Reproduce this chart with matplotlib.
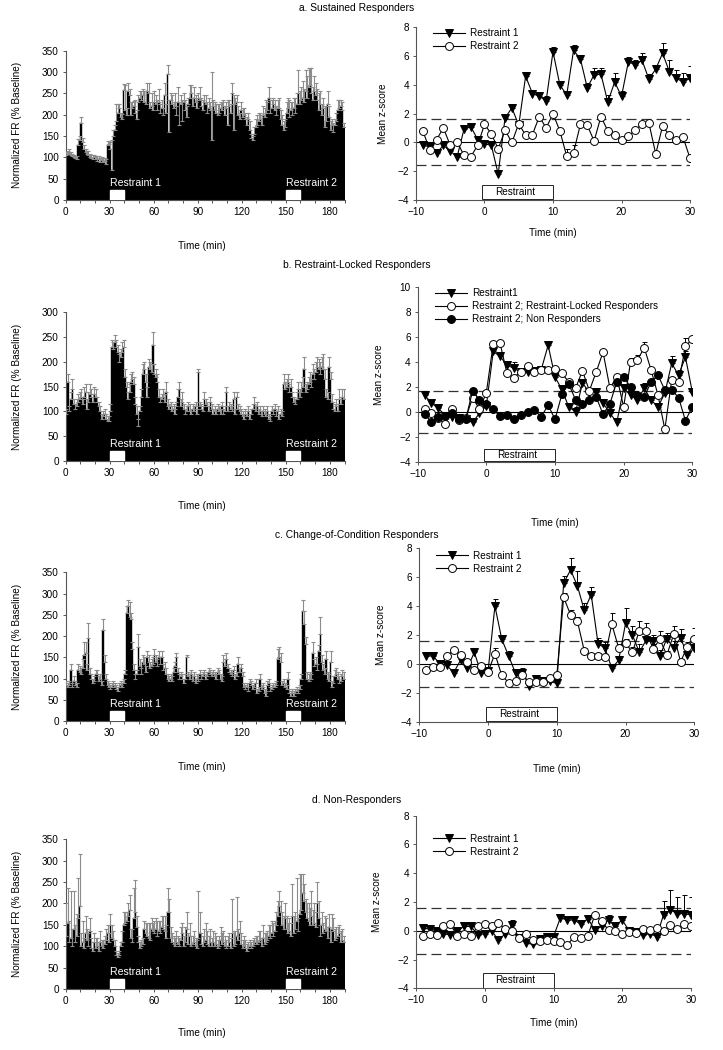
import numpy as np
import matplotlib
matplotlib.use("Agg")
import matplotlib.pyplot as plt
from matplotlib.patches import Rectangle

plt.rcParams['font.family'] = ['Liberation Sans', 'DejaVu Sans']

# ---------------- data: normalized firing rate, 1-min bins (0-189 min) ----------------
fr_minutes = list(range(190))

fr_a = [105, 108, 110, 106, 104, 100, 98, 97, 130, 140,
        180, 135, 120, 112, 108, 105, 100, 98, 96, 100,
        95, 92, 96, 90, 94, 88, 92, 85, 130, 132,
        120, 70, 150, 165, 185, 205, 215, 195, 190, 258,
        210, 200, 255, 245, 200, 215, 220, 205, 190, 230,
        240, 235, 245, 230, 225, 255, 250, 215, 220, 210,
        230, 225, 210, 230, 205, 215, 200, 245, 205, 295,
        160, 235, 225, 215, 220, 200, 230, 175, 225, 185,
        230, 210, 195, 225, 240, 250, 220, 240, 230, 215,
        240, 235, 220, 210, 230, 225, 205, 215, 210, 140,
        220, 210, 205, 200, 205, 215, 210, 220, 200, 215,
        175, 220, 205, 250, 165, 225, 230, 200, 190, 210,
        195, 200, 190, 175, 190, 165, 145, 140, 155, 170,
        175, 185, 190, 175, 200, 195, 205, 210, 240, 205,
        215, 225, 210, 200, 215, 215, 190, 175, 165, 170,
        205, 215, 195, 210, 200, 215, 205, 225, 250, 225,
        235, 240, 230, 255, 240, 265, 270, 250, 235, 255,
        245, 235, 210, 225, 200, 215, 170, 185, 225, 195,
        165, 175, 160, 175, 185, 210, 215, 220, 210, 170]
fr_a_err = [8, 8, 10, 6, 5, 5, 6, 5, 12, 10,
            15, 10, 8, 8, 6, 10, 8, 8, 10, 6,
            8, 10, 6, 8, 6, 10, 6, 10, 8, 6,
            15, 70, 15, 10, 40, 20, 10, 10, 12, 15,
            60, 15, 20, 15, 30, 15, 12, 30, 20, 15,
            15, 20, 15, 25, 30, 20, 25, 15, 30, 20,
            25, 20, 25, 30, 20, 20, 15, 30, 20, 22,
            75, 15, 20, 15, 30, 20, 35, 55, 20, 50,
            20, 25, 25, 15, 30, 20, 20, 25, 15, 20,
            10, 30, 20, 25, 15, 20, 25, 25, 20, 160,
            15, 20, 20, 25, 20, 15, 20, 15, 20, 15,
            60, 15, 20, 25, 80, 15, 15, 20, 15, 20,
            20, 15, 15, 20, 15, 20, 10, 10, 15, 20,
            25, 20, 15, 25, 20, 20, 30, 20, 25, 30,
            20, 15, 25, 20, 20, 25, 20, 25, 20, 20,
            25, 25, 40, 20, 30, 25, 35, 25, 55, 30,
            30, 40, 30, 50, 50, 45, 40, 60, 30, 35,
            30, 25, 40, 30, 25, 25, 50, 35, 30, 25,
            20, 15, 20, 15, 20, 25, 20, 15, 20, 10]

fr_b = [95, 160, 100, 125, 145, 115, 105, 110, 120, 125,
        130, 115, 130, 140, 105, 120, 135, 130, 120, 135,
        130, 120, 110, 100, 85, 90, 95, 85, 80, 80,
        100, 230, 225, 240, 230, 220, 200, 210, 220, 230,
        170, 150, 125, 140, 160, 165, 155, 115, 95, 70,
        100, 130, 175, 185, 160, 130, 190, 185, 180, 235,
        175, 170, 160, 130, 120, 125, 130, 120, 140, 110,
        105, 110, 100, 105, 95, 110, 130, 145, 110, 120,
        105, 95, 100, 110, 100, 95, 105, 100, 110, 95,
        180, 110, 105, 100, 125, 115, 110, 100, 120, 105,
        95, 100, 95, 105, 100, 95, 110, 95, 100, 140,
        100, 110, 105, 100, 125, 95, 130, 105, 100, 95,
        90, 85, 95, 90, 100, 85, 95, 105, 115, 100,
        110, 95, 100, 90, 100, 95, 90, 100, 85, 80,
        100, 95, 105, 90, 100, 85, 95, 90, 155, 145,
        150, 160, 140, 150, 130, 120, 115, 125, 145, 130,
        140, 150, 185, 140, 145, 155, 160, 150, 175, 165,
        180, 190, 185, 175, 190, 185, 165, 130, 125, 190,
        165, 120, 105, 100, 110, 100, 125, 115, 130, 125]
fr_b_err = [10, 15, 10, 15, 20, 10, 10, 15, 15, 15,
            15, 10, 20, 15, 20, 20, 20, 15, 15, 15,
            15, 10, 10, 10, 10, 10, 10, 10, 10, 10,
            15, 15, 15, 15, 15, 15, 15, 15, 20, 15,
            15, 10, 15, 15, 15, 15, 15, 15, 15, 15,
            10, 15, 20, 15, 15, 20, 15, 15, 15, 25,
            20, 15, 15, 15, 10, 10, 15, 15, 20, 15,
            10, 10, 10, 10, 10, 10, 15, 15, 15, 20,
            10, 10, 10, 10, 15, 10, 10, 10, 10, 10,
            5, 10, 10, 10, 15, 10, 10, 10, 10, 10,
            10, 10, 10, 10, 10, 10, 10, 10, 10, 10,
            10, 10, 10, 10, 15, 10, 10, 10, 10, 10,
            10, 10, 10, 10, 10, 10, 10, 10, 15, 10,
            10, 10, 10, 10, 10, 10, 10, 10, 10, 10,
            10, 10, 10, 10, 10, 10, 10, 10, 20, 15,
            15, 15, 15, 15, 10, 10, 10, 15, 15, 15,
            20, 20, 25, 15, 15, 15, 20, 15, 20, 20,
            20, 20, 20, 25, 20, 30, 20, 15, 15, 20,
            15, 15, 15, 15, 15, 15, 20, 15, 15, 20]

fr_c = [85, 80, 85, 120, 80, 95, 85, 80, 120, 115,
        110, 125, 155, 160, 120, 195, 110, 100, 90, 95,
        110, 110, 95, 100, 85, 215, 140, 100, 85, 80,
        75, 80, 85, 80, 75, 70, 80, 85, 80, 90,
        110, 255, 270, 245, 240, 170, 120, 100, 110, 175,
        130, 110, 140, 135, 115, 150, 140, 125, 130, 135,
        155, 140, 130, 150, 135, 150, 120, 125, 110, 100,
        95, 100, 95, 115, 130, 150, 115, 100, 105, 100,
        90, 100, 150, 105, 100, 110, 95, 105, 90, 100,
        95, 110, 100, 105, 110, 100, 105, 115, 110, 105,
        110, 105, 100, 115, 110, 100, 95, 140, 130, 145,
        125, 115, 110, 105, 120, 100, 105, 135, 115, 125,
        105, 80, 75, 80, 70, 90, 85, 75, 80, 90,
        65, 70, 100, 75, 80, 65, 60, 85, 90, 70,
        75, 80, 80, 85, 145, 150, 140, 85, 90, 80,
        75, 100, 65, 60, 65, 60, 65, 70, 65, 75,
        100, 260, 228, 182, 100, 95, 100, 100, 160, 130,
        135, 120, 165, 205, 140, 120, 110, 145, 100, 95,
        140, 80, 90, 105, 110, 100, 90, 95, 105, 100]
fr_c_err = [10, 10, 10, 15, 10, 10, 10, 10, 15, 15,
            15, 20, 30, 25, 15, 35, 15, 10, 10, 10,
            10, 10, 10, 10, 10, 25, 15, 10, 10, 10,
            10, 10, 10, 10, 10, 10, 10, 10, 10, 10,
            10, 15, 15, 35, 15, 15, 15, 10, 10, 30,
            15, 15, 15, 15, 15, 15, 15, 15, 15, 15,
            15, 15, 15, 15, 15, 15, 15, 15, 15, 10,
            10, 10, 10, 10, 10, 10, 10, 10, 10, 10,
            10, 10, 5, 10, 10, 10, 10, 10, 10, 10,
            10, 10, 10, 10, 10, 10, 10, 10, 10, 10,
            10, 10, 10, 10, 10, 10, 10, 15, 15, 15,
            10, 10, 10, 10, 10, 10, 10, 15, 10, 10,
            10, 10, 10, 10, 10, 10, 10, 10, 10, 10,
            10, 10, 10, 10, 10, 10, 10, 10, 10, 10,
            10, 10, 10, 10, 25, 25, 20, 10, 10, 10,
            10, 15, 10, 10, 10, 10, 10, 10, 10, 10,
            10, 25, 30, 15, 15, 15, 15, 10, 25, 15,
            15, 15, 15, 40, 15, 15, 15, 20, 15, 15,
            25, 15, 15, 15, 15, 15, 15, 15, 15, 15]

fr_d = [125, 155, 110, 120, 100, 140, 110, 125, 165, 195,
        100, 110, 95, 130, 115, 100, 135, 95, 90, 110,
        95, 100, 90, 110, 100, 95, 105, 115, 130, 110,
        150, 120, 115, 100, 80, 75, 80, 100, 110, 150,
        155, 160, 170, 185, 120, 110, 165, 180, 145, 110,
        95, 100, 105, 140, 130, 125, 120, 115, 140, 135,
        130, 140, 125, 135, 130, 145, 140, 135, 120, 180,
        180, 120, 110, 105, 100, 110, 105, 100, 115, 130,
        100, 110, 140, 105, 125, 100, 105, 110, 100, 95,
        120, 130, 105, 100, 110, 115, 105, 100, 110, 100,
        110, 100, 105, 95, 100, 115, 105, 110, 100, 95,
        100, 110, 95, 130, 100, 105, 125, 115, 130, 105,
        95, 100, 95, 90, 95, 100, 95, 100, 105, 110,
        105, 110, 115, 100, 120, 105, 110, 115, 125, 120,
        130, 125, 135, 150, 170, 195, 180, 150, 140, 165,
        140, 130, 135, 125, 170, 130, 140, 160, 135, 175,
        185, 225, 205, 180, 165, 160, 150, 170, 150, 155,
        145, 200, 165, 125, 150, 130, 140, 135, 120, 145,
        110, 140, 135, 115, 120, 125, 130, 110, 115, 110]
fr_d_err = [75, 80, 50, 110, 40, 90, 40, 50, 95, 120,
            30, 50, 25, 40, 25, 30, 30, 25, 20, 20,
            25, 20, 20, 25, 15, 20, 20, 25, 20, 20,
            25, 30, 20, 15, 10, 10, 10, 10, 25, 30,
            25, 20, 30, 35, 20, 30, 70, 75, 25, 15,
            15, 15, 15, 20, 25, 30, 35, 40, 25, 20,
            30, 25, 35, 25, 30, 25, 30, 35, 30, 55,
            30, 25, 20, 20, 20, 25, 20, 20, 30, 25,
            25, 35, 40, 25, 30, 25, 20, 25, 20, 20,
            110, 50, 25, 25, 30, 40, 30, 25, 30, 20,
            25, 30, 20, 20, 25, 30, 25, 25, 25, 20,
            25, 20, 25, 80, 35, 30, 90, 25, 30, 25,
            20, 25, 20, 15, 15, 15, 15, 15, 15, 15,
            20, 25, 20, 20, 30, 25, 20, 20, 25, 30,
            30, 30, 25, 30, 35, 35, 25, 30, 30, 35,
            30, 25, 30, 30, 75, 40, 40, 100, 30, 95,
            85, 45, 40, 30, 35, 40, 40, 60, 35, 45,
            35, 50, 40, 25, 30, 25, 30, 30, 25, 30,
            25, 35, 30, 25, 25, 20, 20, 25, 25, 15]

# ---------------- data: mean z-scores around restraint (-9 to 30 min) ----------------
z_minutes = list(range(-9, 31))

a_r1 = [-0.2, -0.3, -0.75, -0.2, -0.6, -1.0, 0.9, 1.1, 0.2, -0.1,
        -0.2, -2.2, 1.7, 2.4, 1.2, 4.6, 3.4, 3.2, 2.9, 6.3,
        4.0, 3.3, 6.4, 5.8, 3.8, 4.7, 4.75, 2.8, 4.2, 3.2,
        5.6, 5.4, 5.7, 4.4, 5.1, 6.2, 4.9, 4.45, 4.2, 4.45]
a_r1_err = [0.1, 0.1, 0.1, 0.1, 0.1, 0.1, 0.1, 0.1, 0.1, 0.1,
            0.1, 0.3, 0.2, 0.3, 0.2, 0.2, 0.2, 0.2, 0.3, 0.35,
            0.3, 0.2, 0.4, 0.3, 0.35, 0.45, 0.4, 0.5, 0.6, 0.35,
            0.35, 0.3, 0.5, 0.35, 0.3, 0.7, 0.8, 0.6, 0.65, 0.85]
a_r2 = [0.8, -0.5, 0.2, 1.0, -0.2, 0.05, -0.9, -1.0, -0.2, 1.25,
        0.6, -0.45, 0.85, 0.0, 1.3, 0.5, 0.55, 1.8, 1.0, 2.0,
        0.8, -0.95, -0.7, 1.25, 1.2, 0.1, 1.8, 0.8, 0.5, 0.15,
        0.45, 0.85, 1.3, 1.35, -0.8, 1.15, 0.5, 0.2, 0.35, -1.1]
a_r2_err = [0.1, 0.1, 0.1, 0.1, 0.1, 0.1, 0.1, 0.1, 0.1, 0.1,
            0.1, 0.1, 0.1, 0.1, 0.1, 0.1, 0.1, 0.1, 0.1, 0.1,
            0.1, 0.5, 0.5, 0.1, 0.1, 0.1, 0.1, 0.1, 0.1, 0.1,
            0.1, 0.1, 0.1, 0.1, 0.1, 0.1, 0.1, 0.1, 0.1, 0.1]

b_r1 = [1.35, 0.7, 0.3, -0.3, -0.4, -0.5, -0.6, -0.85, -0.1, 0.5,
        4.85, 4.45, 3.75, 3.5, 3.2, 3.2, 3.3, 3.4, 5.35, 2.8,
        1.8, 0.4, 0.0, 2.3, 1.6, 1.6, 0.7, -0.1, -0.85, 1.9,
        1.35, 0.95, 1.9, 0.95, 0.4, 1.5, 3.9, 2.95, 4.4, 1.6]
b_r1_err = [0.1, 0.1, 0.1, 0.1, 0.1, 0.1, 0.1, 0.1, 0.1, 0.1,
            0.2, 0.2, 0.3, 0.5, 0.2, 0.2, 0.2, 0.2, 0.3, 0.2,
            0.2, 0.3, 0.4, 0.3, 0.3, 0.3, 0.3, 0.2, 0.2, 0.3,
            0.5, 0.5, 0.4, 0.3, 0.3, 0.3, 0.6, 0.4, 0.5, 0.3]
b_r2l = [0.2, -0.1, -0.5, -1.0, 0.2, -0.65, -0.5, 1.15, 0.2, 1.55,
         5.45, 5.5, 3.1, 2.75, 3.2, 3.65, 3.2, 3.4, 3.4, 3.45,
         3.1, 2.4, 1.9, 3.3, 1.7, 3.2, 4.8, 1.9, 2.8, 0.4,
         4.0, 4.15, 5.15, 3.35, 1.35, -1.4, 2.55, 2.4, 5.25, 5.85]
b_r2l_err = [0.1, 0.1, 0.1, 0.1, 0.1, 0.1, 0.1, 0.1, 0.1, 0.1,
             0.1, 0.1, 0.1, 0.1, 0.1, 0.1, 0.1, 0.1, 0.1, 0.1,
             0.1, 0.1, 0.1, 0.1, 0.1, 0.1, 0.1, 0.1, 0.1, 0.1,
             0.3, 0.4, 0.45, 0.1, 0.1, 0.1, 0.1, 0.1, 0.7, 0.1]
b_r2n = [-0.2, -0.8, -0.4, -0.35, -0.1, -0.6, -0.6, 1.7, 0.95, 0.65,
         0.2, -0.35, -0.25, -0.55, -0.25, 0.0, 0.15, -0.4, 0.55, -0.6,
         1.4, 2.25, 0.95, 0.65, 0.95, 1.2, -0.2, 0.65, 2.4, 2.8,
         2.0, 1.35, 1.2, 2.4, 2.95, 1.75, 1.75, 1.15, -0.7, 0.4]

c_r1 = [0.55, 0.55, 0.0, -0.1, -0.6, 0.25, -0.3, 0.8, -0.65, -0.5,
        4.0, 1.7, 0.55, -0.65, -0.6, -1.5, -1.05, -1.2, -1.2, -1.35,
        5.6, 6.5, 5.4, 3.7, 4.8, 1.4, 1.1, -0.3, 0.25, 2.8,
        2.0, 0.8, 1.65, 1.6, 0.55, 1.75, 1.1, 1.8, 0.6, 1.1]
c_r1_err = [0.1, 0.1, 0.1, 0.1, 0.1, 0.1, 0.1, 0.1, 0.1, 0.1,
            0.5, 0.3, 0.35, 0.3, 0.3, 0.3, 0.3, 0.3, 0.3, 0.3,
            0.5, 0.8, 1.0, 0.5, 0.5, 0.4, 0.4, 0.3, 0.3, 1.1,
            0.6, 0.6, 0.4, 0.4, 0.4, 0.4, 0.5, 0.6, 0.4, 0.4]
c_r2 = [-0.4, -0.2, -0.2, 0.55, 0.95, 0.65, 0.1, -0.45, -0.15, -0.55,
        0.7, -0.8, -1.3, -1.15, -0.8, -1.25, -1.25, -1.25, -1.0, -0.8,
        4.6, 3.4, 2.95, 0.9, 0.55, 0.55, 0.5, 2.75, 1.1, 1.45,
        0.8, 2.3, 2.25, 1.05, 1.7, 0.6, 2.05, 0.15, 1.2, 1.7]
c_r2_err = [0.1, 0.1, 0.1, 0.1, 0.1, 0.1, 0.1, 0.1, 0.1, 0.1,
            0.4, 0.1, 0.1, 0.1, 0.1, 0.1, 0.1, 0.1, 0.1, 0.1,
            0.3, 0.3, 0.3, 0.2, 0.2, 0.2, 0.2, 0.75, 0.3, 0.3,
            0.4, 0.7, 0.55, 0.3, 0.6, 0.3, 0.55, 0.2, 0.3, 0.75]

d_r1 = [0.2, 0.1, 0.0, -0.2, -0.3, 0.0, 0.3, 0.3, -0.3, -0.2,
        0.0, -0.65, -0.2, 0.4, -0.5, -0.85, -0.95, -0.6, -0.4, -0.4,
        0.9, 0.75, 0.75, 0.45, 0.85, 0.05, 0.3, 0.75, 0.35, 0.75,
        0.0, -0.1, -0.3, -0.2, -0.4, 1.1, 1.45, 1.2, 1.2, 1.1]
d_r1_err = [0.1, 0.1, 0.1, 0.1, 0.1, 0.1, 0.1, 0.1, 0.1, 0.1,
            0.1, 0.2, 0.1, 0.35, 0.1, 0.1, 0.1, 0.1, 0.1, 0.1,
            0.2, 0.2, 0.3, 0.2, 0.2, 0.2, 0.2, 0.35, 0.2, 0.2,
            0.1, 0.1, 0.1, 0.1, 0.1, 1.0, 1.35, 1.15, 1.3, 1.25]
d_r2 = [-0.35, -0.25, -0.3, 0.3, 0.45, -0.35, -0.25, -0.35, 0.3, 0.5,
        0.35, 0.55, 0.1, -0.05, -0.5, -0.2, -0.65, -0.7, -0.65, -0.7,
        -0.75, -1.0, -0.4, -0.5, -0.35, 1.1, 0.65, 0.05, 0.0, -0.2,
        -0.1, -0.15, 0.1, 0.05, 0.2, -0.05, 0.4, 0.1, 0.45, 0.35]

FS = 7.2


def bar_panel(ax, vals, errs, ymax):
    ax.bar(fr_minutes, vals, width=1.0, align='edge', color='black',
           edgecolor='black', linewidth=0.3, zorder=2)
    centers = np.array(fr_minutes) + 0.5
    ax.errorbar(centers, vals, yerr=[np.zeros(len(errs)), errs], fmt='none',
                ecolor='#8c8c8c', elinewidth=0.8, capsize=1.4, capthick=0.8, zorder=3)
    ax.set_xlim(0, 190)
    ax.set_ylim(0, ymax)
    ax.set_xticks(range(0, 181, 30))
    ax.set_xticks(range(0, 191, 10), minor=True)
    ax.set_yticks(range(0, ymax + 1, 50))
    box_h = 0.068 * ymax
    for start, label in [(30, 'Restraint 1'), (150, 'Restraint 2')]:
        ax.add_patch(Rectangle((start, 0), 10, box_h, facecolor='white',
                               edgecolor='white', zorder=4))
        ax.text(start, box_h * 1.15, label, color='white', fontsize=7.6,
                ha='left', va='bottom', zorder=5)


def z_panel(ax, ymin, ymax, thr):
    ax.axhline(0, color='black', lw=0.8, zorder=1)
    ax.axhline(thr, color='#333333', lw=0.9, ls=(0, (8, 4)), zorder=1)
    ax.axhline(-thr, color='#333333', lw=0.9, ls=(0, (8, 4)), zorder=1)
    ax.set_xlim(-10, 30)
    ax.set_ylim(ymin, ymax)
    ax.set_xticks(range(-10, 31, 10))
    ax.set_yticks(range(ymin, ymax + 1, 2))
    ax.add_patch(Rectangle((-0.3, ymin + 0.05), 10.3, 1.0, facecolor='white',
                           edgecolor='black', lw=0.6, zorder=2, clip_on=False))
    ax.text(4.5, ymin + 0.55, 'Restraint', fontsize=FS, ha='center', va='center', zorder=3)


def z_series(ax, y, err, marker, face, label):
    if err is not None:
        ax.errorbar(z_minutes, y, yerr=[np.zeros(len(err)), err], fmt='none',
                    ecolor='black', elinewidth=0.7, capsize=1.8, capthick=0.7, zorder=3)
    ax.plot(z_minutes, y, color='black', lw=0.8, marker=marker, markersize=5.7,
            markerfacecolor=face, markeredgecolor='black', markeredgewidth=0.7,
            label=label, zorder=4)


def style(ax):
    for side in ['top', 'right']:
        ax.spines[side].set_visible(False)
    for side in ['left', 'bottom']:
        ax.spines[side].set_color('#555555')
        ax.spines[side].set_linewidth(0.8)
    ax.tick_params(which='both', direction='out', length=2.5, width=0.7,
                   labelsize=FS, color='#555555', pad=2.5)


W, H = 723, 1050
fig = plt.figure(figsize=(W / 100, H / 100), dpi=100)


def axes_px(x0, x1, ytop, ybot):
    return fig.add_axes([x0 / W, 1 - ybot / H, (x1 - x0) / W, (ybot - ytop) / H])


# panel geometry in pixels: (left axis x0, x1, top y, bottom y)
left_boxes = [(65.7, 344.5, 50.7, 200.0), (65.7, 344.5, 312.3, 461.0),
              (65.7, 344.5, 572.3, 721.0), (65.7, 344.5, 839.3, 989.0)]
right_boxes = [(416.0, 690.0, 27.3, 200.0), (417.7, 692.3, 287.3, 461.7),
               (419.3, 694.3, 548.3, 721.7), (416.0, 691.0, 815.7, 988.3)]
titles = ['a. Sustained Responders', 'b. Restraint-Locked Responders',
          'c. Change-of-Condition Responders', 'd. Non-Responders']
title_y = [8, 265, 535, 800]
left_xlabel_y = [246, 506, 767, 1033]
right_xlabel_y = [233, 523, 769, 1023]
right_ylabel_x = [383, 379, 381, 377]

fr_sets = [(fr_a, fr_a_err, 350), (fr_b, fr_b_err, 300),
           (fr_c, fr_c_err, 350), (fr_d, fr_d_err, 350)]

for i in range(4):
    # left: firing-rate histogram
    ax = axes_px(*left_boxes[i])
    vals, errs, ymax = fr_sets[i]
    bar_panel(ax, vals, errs, ymax)
    style(ax)
    x0, x1, yt, yb = left_boxes[i]
    fig.text(202 / W, 1 - left_xlabel_y[i] / H, 'Time (min)', fontsize=FS,
             ha='center', va='center')
    fig.text(17 / W, 1 - (yt + yb) / 2 / H, 'Normalized FR (% Baseline)', fontsize=FS,
             rotation=90, ha='center', va='center')

    # right: z-score time course
    axr = axes_px(*right_boxes[i])
    rx0, rx1, ryt, ryb = right_boxes[i]
    if i == 0:
        z_panel(axr, -4, 8, 1.6)
        z_series(axr, a_r1, a_r1_err, 'v', 'black', 'Restraint 1')
        z_series(axr, a_r2, a_r2_err, 'o', 'white', 'Restraint 2')
    elif i == 1:
        z_panel(axr, -4, 10, 1.7)
        z_series(axr, b_r1, b_r1_err, 'v', 'black', 'Restraint1')
        z_series(axr, b_r2l, b_r2l_err, 'o', 'white', 'Restraint 2; Restraint-Locked Responders')
        z_series(axr, b_r2n, None, 'o', 'black', 'Restraint 2; Non Responders')
    elif i == 2:
        z_panel(axr, -4, 8, 1.6)
        z_series(axr, c_r1, c_r1_err, 'v', 'black', 'Restraint 1')
        z_series(axr, c_r2, c_r2_err, 'o', 'white', 'Restraint 2')
    else:
        z_panel(axr, -4, 8, 1.6)
        z_series(axr, d_r1, d_r1_err, 'v', 'black', 'Restraint 1')
        z_series(axr, d_r2, None, 'o', 'white', 'Restraint 2')
    style(axr)
    leg_y = 1.03 if i < 2 else (1.02 if i == 2 else 0.93)
    axr.legend(loc='upper left', bbox_to_anchor=(0.04, leg_y), frameon=False,
               fontsize=FS, handlelength=3.2, handletextpad=0.5, labelspacing=0.3,
               borderaxespad=0.2)
    fig.text((rx0 + rx1) / 2 / W, 1 - right_xlabel_y[i] / H, 'Time (min)', fontsize=FS,
             ha='center', va='center')
    fig.text(right_ylabel_x[i] / W, 1 - (ryt + ryb) / 2 / H, 'Mean z-score', fontsize=FS,
             rotation=90, ha='center', va='center')

    fig.text(357 / W, 1 - title_y[i] / H, titles[i], fontsize=7.4, ha='center', va='center')

fig.savefig('out.png', dpi=100)
